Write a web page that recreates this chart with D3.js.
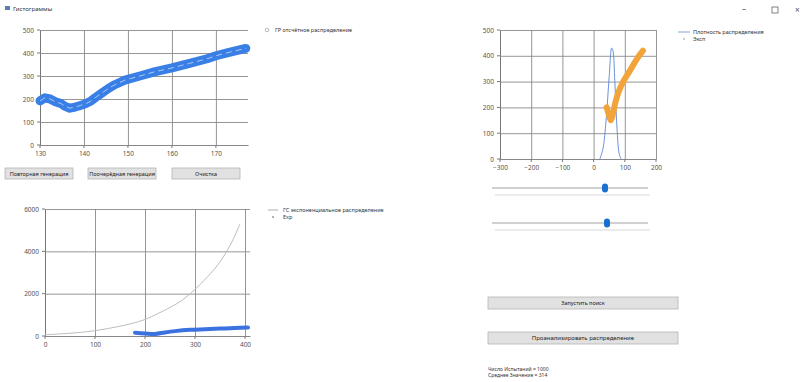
<!DOCTYPE html>
<html><head><meta charset="utf-8">
<script src="https://cdn.jsdelivr.net/npm/d3@7"></script>
<style>
body{margin:0;background:#fff;font-family:"Segoe UI","Noto Sans",Arial,sans-serif;}
svg text{font-family:"Noto Sans",Arial,sans-serif;}
</style></head><body>
<svg id="c" width="801" height="382"></svg>
<script>
// ---- data ----
const topX = [130,131.1,132.3,133.5,134.8,135.7,136.8,138,139.2,140.2,141.5,142.5,144,145.5,147,149.3,152.7,156,160,164,168,170,173,176.8];
const topY = [192,205,200,188,180,168,160,165,172,178,190,205,225,245,262,282,300,318,335,355,375,388,403,420];
const topXTicks = [130,140,150,160,170];
const topYTicks = [0,100,200,300,400,500];

const expX = [0,25,50,75,100,125,150,175,200,225,250,275,300,325,350,375,390];
const expY = [60,90,130,180,250,350,460,600,780,1050,1350,1700,2200,2800,3500,4500,5300];
const ptsX = [180,200,220,240,260,290,320,350,380,406];
const ptsY = [155,120,95,170,230,290,320,350,375,400];
const botXTicks = [0,100,200,300,400];
const botYTicks = [0,2000,4000,6000];

const denX = [20,30,40,50,58,62,68,75,82,88];
const denY = [0,40,150,320,430,420,300,120,20,0];
const accX = [42,48,55,60,70,80,95,110,125,140,158];
const accY = [200,175,150,165,220,260,300,330,360,390,420];
const rXTicks = [-300,-200,-100,0,100,200];
const rYTicks = [0,100,200,300,400,500];

const labels = {
  title:"Гистограммы",
  leg1:"ГР отсчётное распределение",
  leg2a:"ГС экспоненциальное распределение",
  leg2b:"Exp",
  leg3a:"Плотность распределения",
  leg3b:"Эксп",
  btn1:"Повторная генерация", btn2:"Поочерёдная генерация", btn3:"Очистка",
  btn4:"Запустить поиск", btn5:"Проанализировать распределение",
  info1:"Число Испытаний = 1000", info2:"Среднее Значение = 314"
};

const svg = d3.select("#c");
const fs = 6.5;

// window chrome
svg.append("rect").attr("x",5).attr("y",6).attr("width",5).attr("height",4).attr("fill","#5a7fb5");
svg.append("text").attr("x",13).attr("y",11).attr("font-size",6).attr("fill","#333").text(labels.title);
svg.append("text").attr("x",742).attr("y",12).attr("font-size",8).attr("fill","#555").text("–");
svg.append("rect").attr("x",772).attr("y",7).attr("width",6).attr("height",6).attr("fill","none").attr("stroke","#666").attr("stroke-width",0.8);
svg.append("text").attr("x",795).attr("y",13).attr("font-size",8).attr("fill","#555").text("×");

function chart(o){
  const g = svg.append("g");
  const x = d3.scaleLinear().domain(o.xd).range([o.l,o.r]);
  const y = d3.scaleLinear().domain(o.yd).range([o.b,o.t]);
  const gx = g.append("g").attr("transform",`translate(0,${o.b})`)
    .call(d3.axisBottom(x).tickValues(o.xt).tickFormat(d3.format("d")).tickSize(-(o.b-o.t)).tickSizeOuter(0).tickPadding(6));
  const gy = g.append("g").attr("transform",`translate(${o.l},0)`)
    .call(d3.axisLeft(y).tickValues(o.yt).tickFormat(d3.format("d")).tickSize(-(o.r-o.l)).tickSizeOuter(0).tickPadding(6));
  [gx,gy].forEach(a=>{
    a.select(".domain").attr("stroke","#777");
    a.selectAll(".tick line").attr("stroke","#8a8a8a").attr("stroke-width",0.9);
    a.selectAll("text").attr("font-size",fs).attr("fill","#555");
  });
  g.selectAll(".tx").data(o.xt).enter().append("line").attr("x1",d=>x(d)).attr("x2",d=>x(d))
    .attr("y1",o.b).attr("y2",o.b+3).attr("stroke","#777");
  g.selectAll(".ty").data(o.yt).enter().append("line").attr("y1",d=>y(d)).attr("y2",d=>y(d))
    .attr("x1",o.l-3).attr("x2",o.l).attr("stroke","#777");
  return {g,x,y};
}

// top-left chart
const c1 = chart({l:40,r:248,t:30,b:145,xd:[130,177.3],yd:[0,500],xt:topXTicks,yt:topYTicks});
const line1 = d3.line().x((d,i)=>c1.x(topX[i])).y(d=>c1.y(d));
c1.g.append("path").datum(topY).attr("d",line1).attr("fill","none").attr("stroke","#3a7fe6").attr("stroke-width",9).attr("stroke-linecap","round").attr("stroke-linejoin","round");
c1.g.append("path").datum(topY).attr("d",line1).attr("fill","none").attr("stroke","#a9c9f5").attr("stroke-width",1).attr("stroke-dasharray","6,4");
svg.append("circle").attr("cx",267).attr("cy",30).attr("r",1.8).attr("fill","none").attr("stroke","#999").attr("stroke-width",0.7);
svg.append("text").attr("x",275).attr("y",32).attr("font-size",5.5).attr("fill","#333").text(labels.leg1);

// buttons
function button(x,y,w,h,t,size){
  svg.append("rect").attr("x",x).attr("y",y).attr("width",w).attr("height",h).attr("fill","#e1e1e1").attr("stroke","#b5b5b5").attr("stroke-width",0.8);
  svg.append("text").attr("x",x+w/2).attr("y",y+h/2+2).attr("text-anchor","middle").attr("font-size",size||5.5).attr("fill","#222").text(t);
}
button(5,168,68,11,labels.btn1);
button(88,168,68,11,labels.btn2);
button(172,168,68,11,labels.btn3);

// bottom-left chart
const c2 = chart({l:45,r:250,t:209,b:336,xd:[0,410],yd:[0,6000],xt:botXTicks,yt:botYTicks});
const lineE = d3.line().x((d,i)=>c2.x(expX[i])).y(d=>c2.y(d)).curve(d3.curveCatmullRom);
c2.g.append("path").datum(expY).attr("d",lineE).attr("fill","none").attr("stroke","#bdbdbd").attr("stroke-width",1);
const lineP = d3.line().x((d,i)=>c2.x(ptsX[i])).y(d=>c2.y(d)).curve(d3.curveCatmullRom);
c2.g.append("path").datum(ptsY).attr("d",lineP).attr("fill","none").attr("stroke","#3a72e0").attr("stroke-width",4).attr("stroke-linecap","round");
svg.append("line").attr("x1",268).attr("x2",278).attr("y1",210).attr("y2",210).attr("stroke","#999").attr("stroke-width",0.8);
svg.append("text").attr("x",283).attr("y",212).attr("font-size",5.5).attr("fill","#333").text(labels.leg2a);
svg.append("circle").attr("cx",273).attr("cy",217).attr("r",1).attr("fill","#999");
svg.append("text").attr("x",283).attr("y",219).attr("font-size",5.5).attr("fill","#333").text(labels.leg2b);

// right chart
const c3 = chart({l:500,r:656,t:30,b:159,xd:[-300,200],yd:[0,500],xt:rXTicks,yt:rYTicks});
const lineD = d3.line().x((d,i)=>c3.x(denX[i])).y(d=>c3.y(d)).curve(d3.curveCatmullRom);
c3.g.append("path").datum(denY).attr("d",lineD).attr("fill","none").attr("stroke","#5a86d6").attr("stroke-width",0.9);
const lineA = d3.line().x((d,i)=>c3.x(accX[i])).y(d=>c3.y(d)).curve(d3.curveCatmullRom);
c3.g.append("path").datum(accY).attr("d",lineA).attr("fill","none").attr("stroke","#f2a43a").attr("stroke-width",6).attr("stroke-linecap","round");
svg.append("line").attr("x1",678).attr("x2",690).attr("y1",32).attr("y2",32).attr("stroke","#6b8bc9").attr("stroke-width",0.8);
svg.append("text").attr("x",693).attr("y",34).attr("font-size",5.5).attr("fill","#333").text(labels.leg3a);
svg.append("circle").attr("cx",684).attr("cy",39).attr("r",1).attr("fill","#bbb");
svg.append("text").attr("x",693).attr("y",41).attr("font-size",5.5).attr("fill","#333").text(labels.leg3b);

// sliders
function slider(y,tx){
  svg.append("line").attr("x1",492).attr("x2",648).attr("y1",y).attr("y2",y).attr("stroke","#d0d0d0").attr("stroke-width",2);
  svg.append("line").attr("x1",495).attr("x2",650).attr("y1",y+7).attr("y2",y+7).attr("stroke","#dadada").attr("stroke-width",1.2);
  svg.append("rect").attr("x",tx-3).attr("y",y-4.5).attr("width",6).attr("height",9).attr("rx",3).attr("fill","#1a6fd0");
}
slider(188,605);
slider(223,607);

button(488,297,190,12,labels.btn4);
button(488,332,190,12,labels.btn5,6);

svg.append("text").attr("x",488).attr("y",371).attr("font-size",5).attr("fill","#333").text(labels.info1);
svg.append("text").attr("x",488).attr("y",377).attr("font-size",5).attr("fill","#333").text(labels.info2);
</script>
</body></html>
